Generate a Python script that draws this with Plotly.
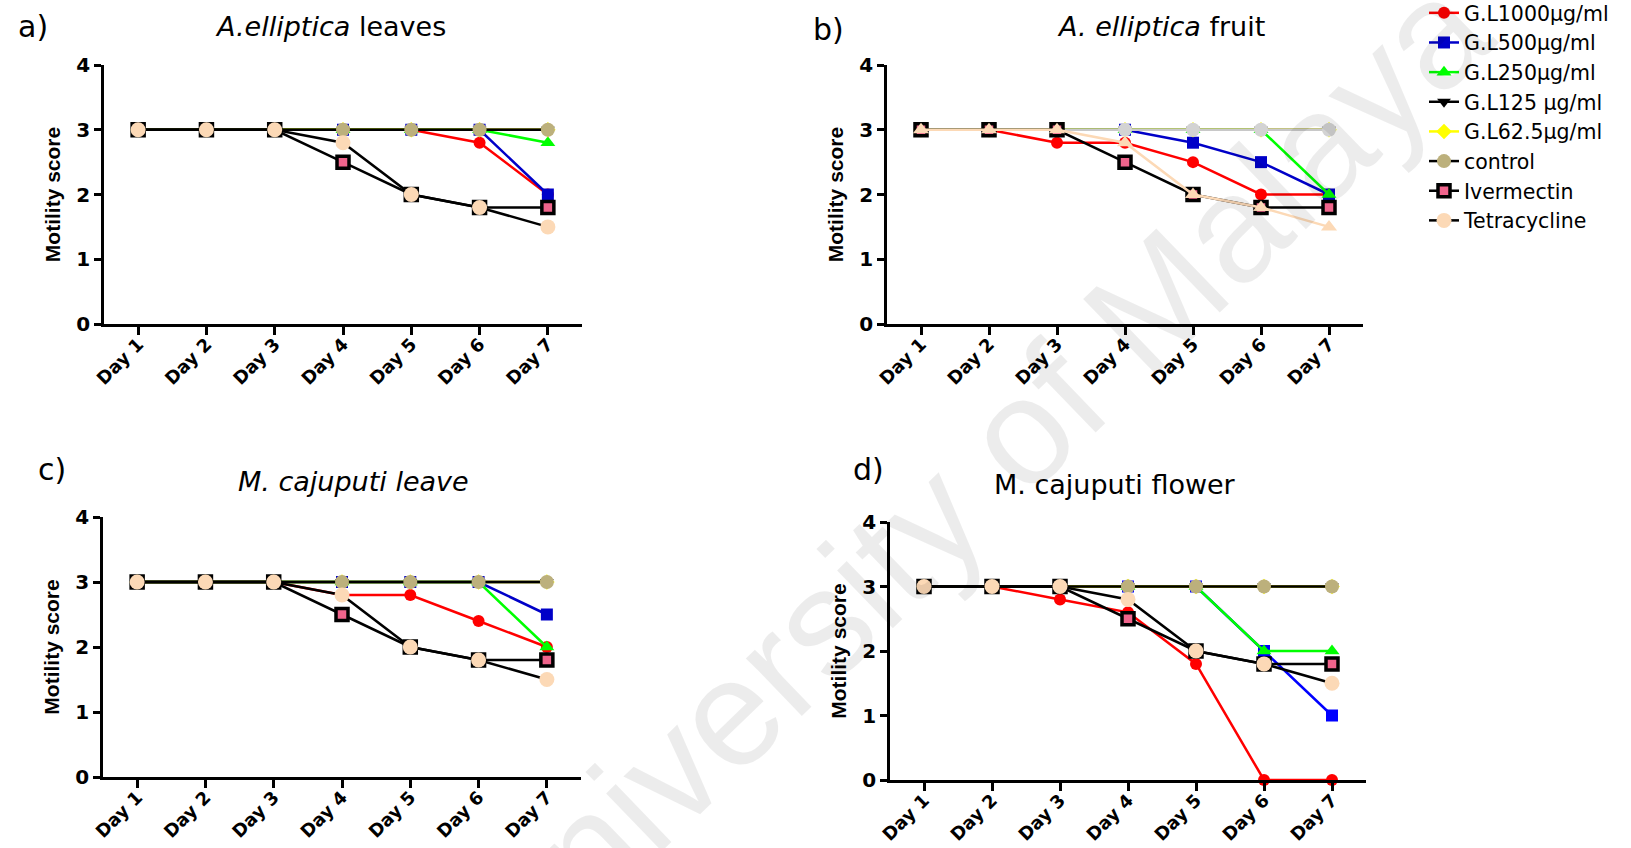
import plotly.graph_objects as go

W, H = 1631, 848

days = ["Day 1", "Day 2", "Day 3", "Day 4", "Day 5", "Day 6", "Day 7"]
series_names = ["G.L1000μg/ml", "G.L500μg/ml", "G.L250μg/ml", "G.L125 μg/ml",
                "G.L62.5μg/ml", "control", "Ivermectin", "Tetracycline"]
y_ticks = [0, 1, 2, 3, 4]

# a) A. elliptica leaves
a_gl1000 = [3, 3, 3, 3, 3, 2.8, 2]
a_gl500 = [3, 3, 3, 3, 3, 3, 2]
a_gl250 = [3, 3, 3, 3, 3, 3, 2.8]
a_gl125 = [3, 3, 3, 3, 3, 3, 3]
a_gl625 = [3, 3, 3, 3, 3, 3, 3]
a_control = [3, 3, 3, 3, 3, 3, 3]
a_ivermectin = [3, 3, 3, 2.5, 2, 1.8, 1.8]
a_tetracycline = [3, 3, 3, 2.8, 2, 1.8, 1.5]

# b) A. elliptica fruit
b_gl1000 = [3, 3, 2.8, 2.8, 2.5, 2, 2]
b_gl500 = [3, 3, 3, 3, 2.8, 2.5, 2]
b_gl250 = [3, 3, 3, 3, 3, 3, 2]
b_gl125 = [3, 3, 3, 3, 3, 3, 3]
b_gl625 = [3, 3, 3, 3, 3, 3, 3]
b_control = [3, 3, 3, 3, 3, 3, 3]
b_ivermectin = [3, 3, 3, 2.5, 2, 1.8, 1.8]
b_tetracycline = [3, 3, 3, 2.8, 2, 1.8, 1.5]

# c) M. cajuputi leave
c_gl1000 = [3, 3, 3, 2.8, 2.8, 2.4, 2]
c_gl500 = [3, 3, 3, 3, 3, 3, 2.5]
c_gl250 = [3, 3, 3, 3, 3, 3, 2]
c_gl125 = [3, 3, 3, 3, 3, 3, 3]
c_gl625 = [3, 3, 3, 3, 3, 3, 3]
c_control = [3, 3, 3, 3, 3, 3, 3]
c_ivermectin = [3, 3, 3, 2.5, 2, 1.8, 1.8]
c_tetracycline = [3, 3, 3, 2.8, 2, 1.8, 1.5]

# d) M. cajuputi flower
d_gl1000 = [3, 3, 2.8, 2.6, 1.8, 0, 0]
d_gl500 = [3, 3, 3, 3, 3, 2, 1]
d_gl250 = [3, 3, 3, 3, 3, 2, 2]
d_gl125 = [3, 3, 3, 3, 3, 3, 3]
d_gl625 = [3, 3, 3, 3, 3, 3, 3]
d_control = [3, 3, 3, 3, 3, 3, 3]
d_ivermectin = [3, 3, 3, 2.5, 2, 1.8, 1.8]
d_tetracycline = [3, 3, 3, 2.8, 2, 1.8, 1.5]

panels = [
    ("a", [a_gl1000, a_gl500, a_gl250, a_gl125, a_gl625, a_control, a_ivermectin, a_tetracycline]),
    ("b", [b_gl1000, b_gl500, b_gl250, b_gl125, b_gl625, b_control, b_ivermectin, b_tetracycline]),
    ("c", [c_gl1000, c_gl500, c_gl250, c_gl125, c_gl625, c_control, c_ivermectin, c_tetracycline]),
    ("d", [d_gl1000, d_gl500, d_gl250, d_gl125, d_gl625, d_control, d_ivermectin, d_tetracycline]),
]


def px(v):
    return v / W


def py(v):
    return 1 - v / H


# pixel boxes of each plot area: (x0, x1, ytop, ybottom)
boxes = {
    "a": (104, 582, 65, 324),
    "b": (887, 1363, 65, 324),
    "c": (103, 581, 517, 777),
    "d": (890, 1366, 522, 780),
}

base_styles = [
    dict(mc="#ff0000", sym="circle", size=12, lc="#ff0000", lw=2.5, mlw=0),
    dict(mc="#0000c8", sym="square", size=12, lc="#0000c8", lw=2.5, mlw=0),
    dict(mc="#00ff00", sym="triangle-up", size=13, lc="#00ff00", lw=2.5, mlw=0),
    dict(mc="#000000", sym="triangle-down", size=12, lc="#000000", lw=2.5, mlw=0),
    dict(mc="#ffff00", sym="diamond", size=12, lc="#ffff00", lw=2.5, mlw=0),
    dict(mc="#bcb07c", sym="circle", size=14, lc="#000000", lw=2.5, mlw=0),
    dict(mc="#f0648c", sym="square", size=12, lc="#000000", lw=2.5, mlw=3.5),
    dict(mc="#fcd9b6", sym="circle", size=15, lc="#000000", lw=2.5, mlw=0),
]
overrides = {
    "b": {5: dict(mc="#d3d3d3", lc="#c8c8c8"),
          7: dict(sym="triangle-up", lc="#fcd9b6", size=14)},
    "d": {1: dict(mc="#0000ff", lc="#0000ff")},
}

fig = go.Figure()
for pi, (key, series) in enumerate(panels):
    n = "" if pi == 0 else str(pi + 1)
    for si, vals in enumerate(series):
        st = dict(base_styles[si])
        st.update(overrides.get(key, {}).get(si, {}))
        fig.add_trace(go.Scatter(
            x=days, y=vals, mode="lines+markers",
            name=series_names[si], legendgroup=series_names[si],
            showlegend=(key == "a"),
            xaxis="x" + n, yaxis="y" + n, cliponaxis=False,
            line=dict(color=st["lc"], width=st["lw"]),
            marker=dict(color=st["mc"], symbol=st["sym"], size=st["size"],
                        line=dict(color="#000000", width=st["mlw"])),
        ))

    x0, x1, yt, yb = boxes[key]
    xa = dict(
        domain=[px(x0), px(x1)], anchor="y" + n, type="category",
        range=[-0.5, 6.5], tickangle=-45, ticks="outside", ticklen=8,
        tickwidth=2.5, tickcolor="#000000", showline=True, linewidth=2.5,
        linecolor="#000000", showgrid=False, zeroline=False,
        ticklabelstandoff=-8,
        tickfont=dict(family="DejaVu Sans", size=18, color="#000000", weight="bold"),
    )
    ya = dict(
        domain=[py(yb), py(yt)], anchor="x" + n, range=[0, 4],
        tickvals=y_ticks, ticks="outside", ticklen=7, tickwidth=2.5,
        tickcolor="#000000", showline=True, linewidth=2.5, linecolor="#000000",
        showgrid=False, zeroline=False,
        tickfont=dict(family="DejaVu Sans", size=20, color="#000000", weight="bold"),
        title=dict(text="Motility score", standoff=10,
                   font=dict(family="Liberation Sans", size=21, color="#000000", weight="bold")),
    )
    fig.update_layout(**{"xaxis" + n: xa, "yaxis" + n: ya})

ann = []
labels = [("a)", 33, 27), ("b)", 829, 30), ("c)", 52, 469), ("d)", 868, 470)]
for t, lx, ly in labels:
    ann.append(dict(text=t, x=px(lx), y=py(ly), xref="paper", yref="paper",
                    xanchor="center", yanchor="middle", showarrow=False,
                    font=dict(family="DejaVu Sans", size=30, color="#000000")))
titles = [("<i>A.elliptica</i> leaves", 330, 27),
          ("<i>A. elliptica</i> fruit", 1161, 27),
          ("<i>M. cajuputi leave</i>", 353, 481),
          ("M. cajuputi flower", 1115, 484)]
for t, lx, ly in titles:
    ann.append(dict(text=t, x=px(lx), y=py(ly), xref="paper", yref="paper",
                    xanchor="center", yanchor="middle", showarrow=False,
                    font=dict(family="DejaVu Sans", size=27, color="#000000")))
ann.append(dict(text="University of Malaya", x=px(970), y=py(480),
                xref="paper", yref="paper", xanchor="center", yanchor="middle",
                showarrow=False, textangle=-44,
                font=dict(family="Liberation Sans", size=152, color="rgba(0,0,0,0.075)")))

fig.update_layout(
    width=W, height=H,
    margin=dict(l=0, r=0, t=0, b=0, autoexpand=False),
    paper_bgcolor="#ffffff", plot_bgcolor="#ffffff",
    font=dict(family="DejaVu Sans", color="#000000"),
    annotations=ann,
    legend=dict(x=px(1424), y=py(-7), xanchor="left", yanchor="top",
                bgcolor="rgba(0,0,0,0)", tracegroupgap=0,
                font=dict(family="DejaVu Sans", size=20.5, color="#000000")),
)

fig.write_html(
    "out.html",
    config={"displayModeBar": False},
    post_script="document.body.style.margin='0';document.body.style.overflow='hidden';",
)
